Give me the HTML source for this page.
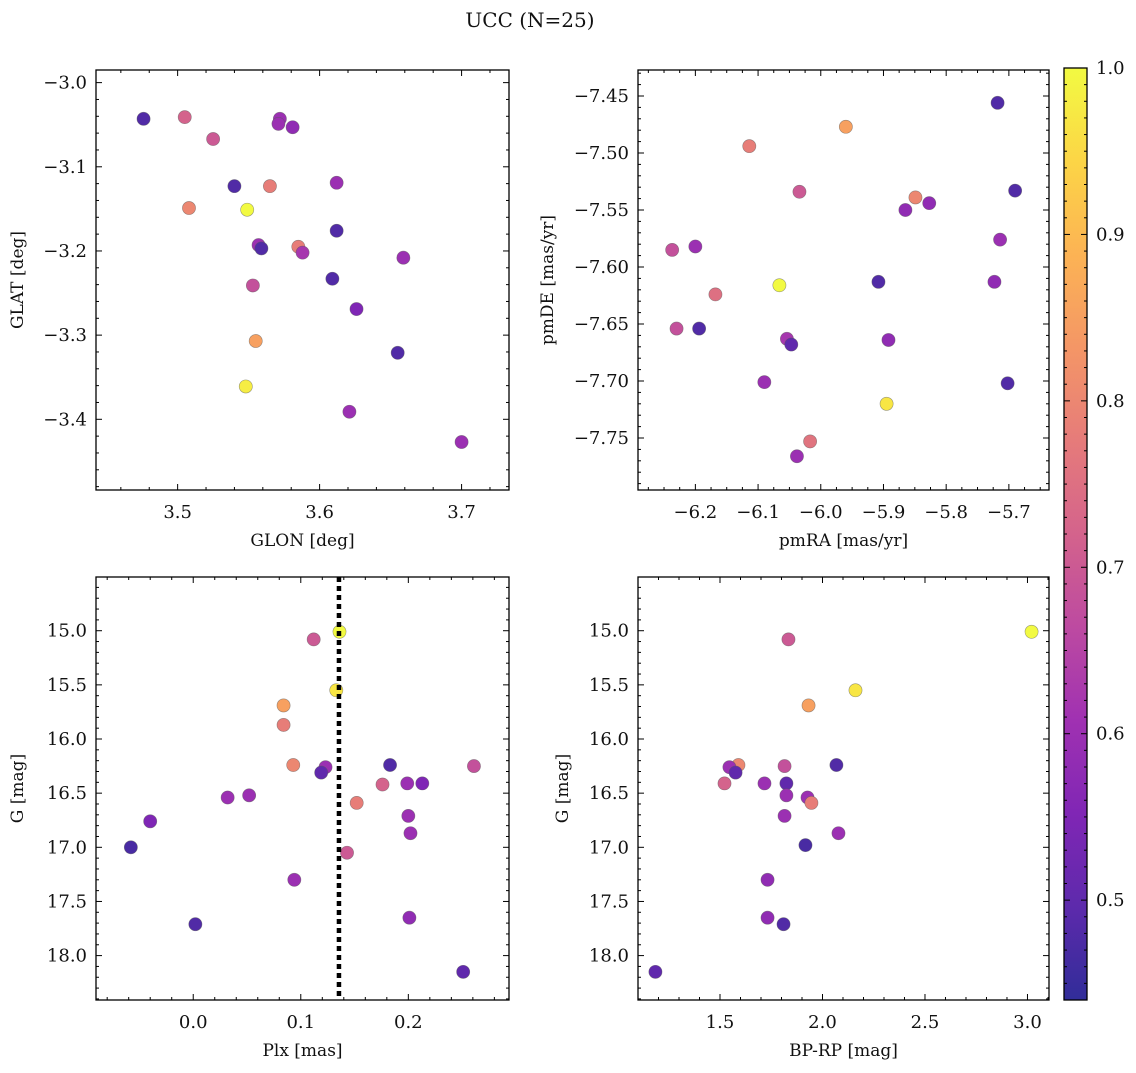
<!DOCTYPE html>
<html><head><meta charset="utf-8"><style>
body{margin:0;background:#fff;}
svg text{font-family:"DejaVu Serif","Liberation Serif",serif;fill:#111;}
</style></head><body>
<svg id="fig" width="1136" height="1068" xmlns="http://www.w3.org/2000/svg">
<defs><linearGradient id="cbg" x1="0" y1="1" x2="0" y2="0"></linearGradient></defs>
<text x="530" y="27" font-size="20" text-anchor="middle">UCC (N=25)</text>
</svg>
<script>
const glon=[3.476,3.505,3.525,3.572,3.571,3.581,3.540,3.565,3.612,3.508,3.549,3.612,3.557,3.559,3.585,3.588,3.659,3.553,3.609,3.626,3.555,3.655,3.548,3.621,3.700];
const glat=[-3.043,-3.041,-3.067,-3.043,-3.049,-3.053,-3.123,-3.123,-3.119,-3.149,-3.151,-3.176,-3.193,-3.197,-3.195,-3.202,-3.208,-3.241,-3.233,-3.269,-3.307,-3.321,-3.361,-3.391,-3.427];
const probA=[0.48,0.72,0.70,0.60,0.60,0.58,0.48,0.78,0.60,0.80,1.0,0.48,0.60,0.48,0.78,0.62,0.60,0.68,0.48,0.55,0.85,0.48,0.98,0.60,0.60];
const pmra=[-5.718,-5.960,-6.114,-5.690,-6.034,-5.865,-5.849,-5.827,-5.714,-6.237,-6.200,-6.066,-6.168,-5.908,-5.723,-6.230,-6.194,-6.054,-6.047,-5.892,-6.090,-5.702,-5.895,-6.017,-6.038];
const pmde=[-7.456,-7.477,-7.494,-7.533,-7.534,-7.550,-7.539,-7.544,-7.576,-7.585,-7.582,-7.616,-7.624,-7.613,-7.613,-7.654,-7.654,-7.663,-7.668,-7.664,-7.701,-7.702,-7.720,-7.753,-7.766];
const probB=[0.48,0.85,0.78,0.48,0.70,0.58,0.80,0.58,0.60,0.68,0.60,1.0,0.75,0.48,0.58,0.68,0.48,0.62,0.50,0.58,0.60,0.48,0.97,0.76,0.60];
const plx=[0.112,0.136,0.133,0.084,0.084,0.093,0.123,0.119,0.183,0.261,0.176,0.199,0.213,0.032,0.052,0.152,-0.040,0.200,0.202,0.143,-0.058,0.094,0.201,0.002,0.251];
const gmag=[15.08,15.01,15.55,15.69,15.87,16.24,16.26,16.31,16.24,16.25,16.42,16.41,16.41,16.54,16.52,16.59,16.76,16.71,16.87,17.05,17.00,17.30,17.65,17.71,18.15];
const probC=[0.70,1.0,0.97,0.85,0.78,0.80,0.60,0.50,0.48,0.68,0.72,0.60,0.55,0.60,0.60,0.78,0.55,0.60,0.60,0.70,0.47,0.60,0.58,0.48,0.50];
const bprp=[1.834,3.020,2.161,1.932,1.590,1.546,1.576,2.068,1.815,1.522,1.717,1.824,1.824,1.927,1.946,1.815,2.078,1.917,1.732,1.732,1.810,1.185];
const gmag4=[15.08,15.01,15.55,15.69,16.24,16.26,16.31,16.24,16.25,16.41,16.41,16.41,16.52,16.54,16.59,16.71,16.87,16.98,17.30,17.65,17.71,18.15];
const probD=[0.70,1.0,0.97,0.85,0.80,0.60,0.50,0.48,0.68,0.72,0.60,0.50,0.60,0.60,0.78,0.60,0.60,0.47,0.58,0.58,0.48,0.50];
const plxLine=0.1355;
const cbTicks=[0.5,0.6,0.7,0.8,0.9,1.0];

const NS="http://www.w3.org/2000/svg";
const svg=document.getElementById('fig');
function mk(tag,at,parent){const e=document.createElementNS(NS,tag);for(const k in at)e.setAttribute(k,at[k]);(parent||svg).appendChild(e);return e;}
const stops=[[13,8,135],[65,4,157],[106,0,168],[143,13,164],[177,42,144],[204,71,120],[225,100,98],[242,132,75],[252,166,54],[252,206,37],[240,249,33]];
const VMIN=0.44,VMAX=1.0;
function cmap(v){let t=(v-VMIN)/(VMAX-VMIN);t=Math.max(0,Math.min(1,t));const f=t*10,i=Math.min(9,Math.floor(f)),r=f-i;const a=stops[i],b=stops[i+1];
 const c=[0,1,2].map(k=>Math.round((a[k]+(b[k]-a[k])*r)*0.85+255*0.15));return `rgb(${c[0]},${c[1]},${c[2]})`;}
function fmt(v,d){const s=Math.abs(v).toFixed(d);return (v<-1e-9?'\u2212':'')+s;}
function panel(o){
 const g=mk('g',{});
 
 
 const X=v=>o.x0+(v-o.xr[0])/(o.xr[1]-o.xr[0])*(o.x1-o.x0);
 const Y=v=>o.y0+(v-o.yr[0])/(o.yr[1]-o.yr[0])*(o.y1-o.y0);
 o.xs.forEach((xv,i)=>{const c=mk('circle',{cx:X(xv),cy:Y(o.ys[i]),r:6.6,fill:cmap(o.cs[i]),stroke:'rgba(90,90,90,0.6)','stroke-width':0.6},g);
  
  });
 if(o.vline!==undefined){const l=mk('line',{x1:X(o.vline),x2:X(o.vline),y1:o.y0,y2:o.y1,stroke:'#000','stroke-width':4.5,'stroke-dasharray':'5,4'},g);
  
  }
 const fr=mk('rect',{x:o.x0,y:o.y0,width:o.x1-o.x0,height:o.y1-o.y0,fill:'none',stroke:'#000','stroke-width':1.3},g);
 
 
 const lo=Math.min(...o.xr),hi=Math.max(...o.xr);
 for(let k=Math.ceil(lo/o.xmin-1e-6);k*o.xmin<=hi+1e-9;k++){const v=k*o.xmin,x=X(v);const maj=Math.abs(v/o.xmaj-Math.round(v/o.xmaj))<1e-6;const L=maj?6:3;
  mk('line',{x1:x,x2:x,y1:o.y1,y2:o.y1-L,stroke:'#000','stroke-width':1},g);mk('line',{x1:x,x2:x,y1:o.y0,y2:o.y0+L,stroke:'#000','stroke-width':1},g);
  if(maj){const t=mk('text',{x:x,y:o.y1+28,'font-size':18,'text-anchor':'middle'},g);t.textContent=fmt(v,o.xd);
   
   }}
 const ylo=Math.min(...o.yr),yhi=Math.max(...o.yr);
 for(let k=Math.ceil(ylo/o.ymin-1e-6);k*o.ymin<=yhi+1e-9;k++){const v=k*o.ymin,y=Y(v);const maj=Math.abs(v/o.ymaj-Math.round(v/o.ymaj))<1e-6;const L=maj?6:3;
  mk('line',{x1:o.x0,x2:o.x0+L,y1:y,y2:y,stroke:'#000','stroke-width':1},g);mk('line',{x1:o.x1,x2:o.x1-L,y1:y,y2:y,stroke:'#000','stroke-width':1},g);
  if(maj){const t=mk('text',{x:o.x0-9,y:y+6,'font-size':18,'text-anchor':'end'},g);t.textContent=fmt(v,o.yd);
   
   }}
 const xl=mk('text',{x:(o.x0+o.x1)/2,y:o.y1+56,'font-size':17,'text-anchor':'middle'},g);xl.textContent=o.xlab;
 
 
 const yl=mk('text',{x:0,y:0,'font-size':17,'text-anchor':'middle',transform:`translate(${o.ylx},${(o.y0+o.y1)/2}) rotate(-90)`},g);yl.textContent=o.ylab;
 
 
}
panel({name:'glon-glat-panel',x0:96,x1:509,y0:70,y1:490,xr:[3.4425,3.7334],yr:[-2.985,-3.484],xs:glon,ys:glat,cs:probA,xmaj:0.1,xmin:0.02,ymaj:0.1,ymin:0.02,xd:1,yd:1,xlab:'GLON [deg]',ylab:'GLAT [deg]',ylx:23});
panel({name:'pm-panel',x0:638,x1:1049,y0:70,y1:490,xr:[-6.2915,-5.636],yr:[-7.4272,-7.7956],xs:pmra,ys:pmde,cs:probB,xmaj:0.1,xmin:0.025,ymaj:0.05,ymin:0.01,xd:1,yd:2,xlab:'pmRA [mas/yr]',ylab:'pmDE [mas/yr]',ylx:553});
panel({name:'plx-g-panel',x0:96,x1:509,y0:577,y1:1000,xr:[-0.0904,0.2936],yr:[14.504,18.41],xs:plx,ys:gmag,cs:probC,xmaj:0.1,xmin:0.02,ymaj:0.5,ymin:0.1,xd:1,yd:1,xlab:'Plx [mas]',ylab:'G [mag]',ylx:23,vline:plxLine});
panel({name:'color-magnitude-panel',x0:638,x1:1049,y0:577,y1:1000,xr:[1.1,3.105],yr:[14.504,18.41],xs:bprp,ys:gmag4,cs:probD,xmaj:0.5,xmin:0.1,ymaj:0.5,ymin:0.1,xd:1,yd:1,xlab:'BP-RP [mag]',ylab:'G [mag]',ylx:568});
const grad=document.getElementById('cbg');
for(let i=0;i<=20;i++){const v=VMIN+(VMAX-VMIN)*i/20;mk('stop',{offset:(i/20),'stop-color':cmap(v)},grad);}
const cbx0=1064,cbx1=1087,cby0=68,cby1=1000;
const CY=v=>cby1-(v-VMIN)/(VMAX-VMIN)*(cby1-cby0);
const cb=mk('rect',{x:cbx0,y:cby0,width:cbx1-cbx0,height:cby1-cby0,fill:'url(#cbg)',stroke:'#000','stroke-width':1.3});


for(let k=45;k<=100;k++){const v=k/100,y=CY(v);const maj=k%10===0;mk('line',{x1:cbx1,x2:cbx1-(maj?6:3),y1:y,y2:y,stroke:'#000','stroke-width':1});mk('line',{x1:cbx0,x2:cbx0+(maj?6:3),y1:y,y2:y,stroke:'#000','stroke-width':1});}
cbTicks.forEach(v=>{const t=mk('text',{x:cbx1+9,y:CY(v)+6,'font-size':18});t.textContent=v.toFixed(1);
 
 });
</script>
</body></html>
